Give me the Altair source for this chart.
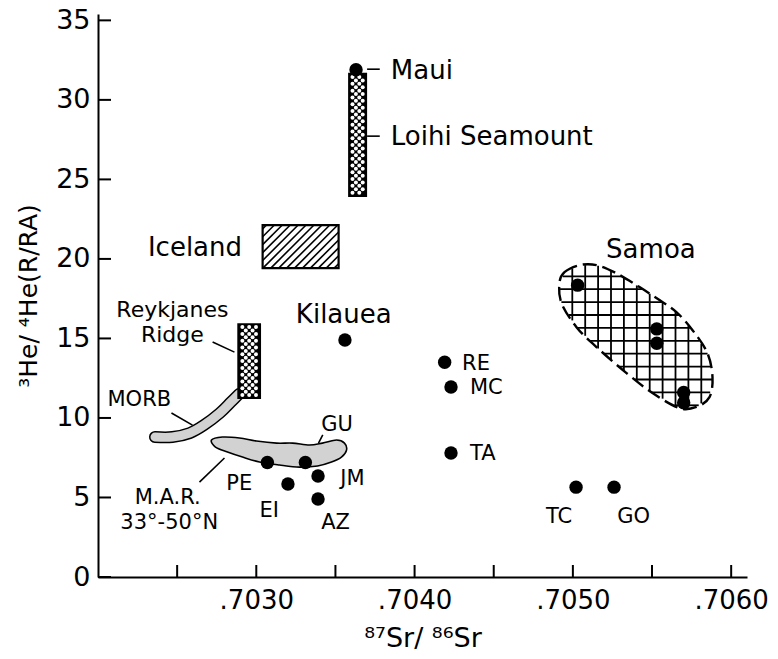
import math
import altair as alt
import pandas as pd

# ---------------- axes ----------------
X_DOMAIN = [0.7020, 0.7061]
Y_DOMAIN = [0.0, 35.4]
x_tick_values = [0.7025, 0.7030, 0.7035, 0.7040, 0.7045, 0.7050, 0.7055, 0.7060]
x_label_values = [0.7030, 0.7040, 0.7050, 0.7060]
y_tick_values = [0, 5, 10, 15, 20, 25, 30, 35]
x_title = "⁸⁷Sr/ ⁸⁶Sr"
y_title = "³He/ ⁴He(R/RA)"

# ---------------- sample points ----------------
dot_names = ["Maui", "Kilauea", "PE", "GU", "JM", "EI", "AZ", "RE", "MC", "TA",
             "TC", "GO", "Samoa 1", "Samoa 2", "Samoa 3", "Samoa 4", "Samoa 5"]
dot_x = [0.70363, 0.70356, 0.70307, 0.70331, 0.70339, 0.70320, 0.70339, 0.70419,
         0.70423, 0.70423, 0.70502, 0.70526, 0.70503, 0.70553, 0.70553, 0.70570, 0.70570]
dot_y = [31.9, 14.9, 7.2, 7.2, 6.35, 5.85, 4.9, 13.5,
         11.95, 7.8, 5.65, 5.65, 18.35, 15.6, 14.7, 11.6, 10.95]

# ---------------- fields (boxes) ----------------
box_names = ["Iceland", "Reykjanes Ridge", "Loihi Seamount"]
box_x1 = [0.70304, 0.70288, 0.70358]
box_x2 = [0.70352, 0.70303, 0.70370]
box_y1 = [19.42, 11.19, 23.9]
box_y2 = [22.12, 15.96, 31.7]

# MORB band centre line
morb_x = [0.70236, 0.70247, 0.70258, 0.70267, 0.70277, 0.70284, 0.70289]
morb_y = [8.80, 8.80, 9.05, 9.55, 10.31, 11.00, 11.50]

# M.A.R. 33-50N field outline
mar_x = [0.702717, 0.702786, 0.702894, 0.703001, 0.703128, 0.703229, 0.703336, 0.703418,
         0.703507, 0.703557, 0.703570, 0.703538, 0.703475, 0.703387, 0.703273, 0.703147,
         0.703020, 0.702913, 0.702818, 0.702742]
mar_y = [8.61, 8.80, 8.74, 8.55, 8.42, 8.42, 8.30, 8.42,
         8.61, 8.42, 7.98, 7.54, 7.23, 6.98, 6.91, 7.04,
         7.23, 7.54, 7.86, 8.17]

# Samoa field outline
samoa_x = [0.704915, 0.704947, 0.705042, 0.705149, 0.705275, 0.705421, 0.705547, 0.705654,
           0.705756, 0.705850, 0.705882, 0.705863, 0.705781, 0.705673, 0.705503, 0.705339,
           0.705149, 0.705023, 0.704928]
samoa_y = [18.48, 19.17, 19.61, 19.61, 19.10, 18.23, 17.41, 16.66,
           15.52, 14.08, 12.57, 11.31, 10.69, 10.62, 11.57, 12.82,
           14.46, 15.71, 17.22]

# leader lines
lead_x1 = [0.70370, 0.70370, 0.702724, 0.702464, 0.702641, 0.703420]
lead_y1 = [31.93, 27.72, 14.77, 10.31, 5.97, 8.93]
lead_x2 = [0.70378, 0.70378, 0.702862, 0.702597, 0.702799, 0.703393]
lead_y2 = [31.93, 27.72, 14.14, 9.55, 7.48, 8.42]

# labels
lab_text = ["Maui", "Loihi Seamount", "Iceland", "Kilauea", "Samoa",
            "Reykjanes", "Ridge", "MORB", "GU", "JM", "PE", "EI", "AZ",
            "M.A.R.", "33°-50°N", "RE", "MC", "TA", "TC", "GO"]
lab_x = [0.70385, 0.70385, 0.70291, 0.70325, 0.70521,
         0.70247, 0.70247, 0.70206, 0.70341, 0.70353, 0.70281, 0.70302, 0.70341,
         0.70244, 0.70245, 0.70430, 0.70435, 0.70435, 0.70483, 0.70528]
lab_y = [31.8, 27.65, 20.68, 16.5, 20.55,
         16.78, 15.21, 11.12, 9.55, 6.16, 5.85, 4.15, 3.39,
         4.97, 3.39, 13.39, 11.88, 7.73, 3.77, 3.77]
lab_align = ["left", "left", "right", "left", "left",
             "center", "center", "left", "left", "left", "left", "left", "left",
             "center", "center", "left", "left", "left", "left", "left"]
lab_size = [26, 26, 26, 26, 26,
            22, 22, 21, 21, 21, 21, 21, 21,
            21, 21, 21, 21, 21, 21, 21]

# ---------------- layout ----------------
W, H = 649, 563
PX_X = W / (X_DOMAIN[1] - X_DOMAIN[0])
PX_Y = H / (Y_DOMAIN[1] - Y_DOMAIN[0])
FONT = "DejaVu Sans"


def to_px(x, y):
    return ((x - X_DOMAIN[0]) * PX_X, (y - Y_DOMAIN[0]) * PX_Y)


def to_data(u, v):
    return (X_DOMAIN[0] + u / PX_X, Y_DOMAIN[0] + v / PX_Y)


def hatch(xs, ys, angle_deg, spacing, phase=0.0):
    """Clip a family of parallel lines (screen space) to a polygon."""
    pts = [to_px(x, y) for x, y in zip(xs, ys)]
    a = math.radians(angle_deg)
    dx, dy = math.cos(a), math.sin(a)
    nx, ny = -dy, dx
    proj = [nx * u + ny * v for u, v in pts]
    lo, hi = min(proj), max(proj)
    rows = []
    k = math.ceil((lo - phase) / spacing)
    n = len(pts)
    while phase + k * spacing <= hi:
        c = phase + k * spacing
        hits = []
        for i in range(n):
            j = (i + 1) % n
            s1, s2 = proj[i] - c, proj[j] - c
            if (s1 < 0) != (s2 < 0):
                t = s1 / (s1 - s2)
                u = pts[i][0] + t * (pts[j][0] - pts[i][0])
                v = pts[i][1] + t * (pts[j][1] - pts[i][1])
                hits.append((dx * u + dy * v, u, v))
        hits.sort()
        for m in range(0, len(hits) - 1, 2):
            xa, ya = to_data(hits[m][1], hits[m][2])
            xb, yb = to_data(hits[m + 1][1], hits[m + 1][2])
            rows.append({"x": xa, "y": ya, "x2": xb, "y2": yb})
        k += 1
    return pd.DataFrame(rows)


def lattice(x1, x2, y1, y2, pitch=6.8, margin=3.4):
    """Centred diamond lattice of texture dots inside a box (screen space)."""
    u1, v1 = to_px(x1, y1)
    u2, v2 = to_px(x2, y2)
    half = pitch / 2
    usable_u = (u2 - u1) - 2 * margin
    nsteps_u = int(usable_u // half)
    start_u = u1 + ((u2 - u1) - nsteps_u * half) / 2
    usable_v = (v2 - v1) - 2 * margin
    nsteps_v = int(usable_v // half)
    start_v = v1 + ((v2 - v1) - nsteps_v * half) / 2
    rows = []
    for r in range(nsteps_v + 1):
        for c in range(nsteps_u + 1):
            if (r + c) % 2 == 0:
                xx, yy = to_data(start_u + c * half, start_v + r * half)
                rows.append({"x": xx, "y": yy})
    return pd.DataFrame(rows)


xs = alt.Scale(domain=X_DOMAIN, nice=False, zero=False)
ys = alt.Scale(domain=Y_DOMAIN, nice=False, zero=False)

AX_X = alt.Axis(values=x_label_values, title=x_title,
                labelExpr="replace(format(datum.value, '.4f'), '0.', '.')")
AX_Y = alt.Axis(values=y_tick_values, title=y_title)


def X(f="x"):
    return alt.X(f"{f}:Q", scale=xs, axis=AX_X)


def Y(f="y"):
    return alt.Y(f"{f}:Q", scale=ys, axis=AX_Y)


layers = []

# Samoa cross-hatch + dashed outline
samoa_df = pd.DataFrame({"x": samoa_x, "y": samoa_y, "i": range(len(samoa_x))})
samoa_grid = pd.concat([hatch(samoa_x, samoa_y, 90, 12.9, 3.0),
                        hatch(samoa_x, samoa_y, 0, 12.9, 4.0)], ignore_index=True)
layers.append(alt.Chart(samoa_grid).mark_rule(color="black", strokeWidth=1.8).encode(
    x=X(), y=Y(), x2="x2:Q", y2="y2:Q"))
layers.append(alt.Chart(samoa_df).mark_line(
    interpolate="cardinal-closed", stroke="black", strokeWidth=2.4, strokeDash=[14, 6]
).encode(x=X(), y=Y(), order="i:Q"))

# M.A.R. field
mar_df = pd.DataFrame({"x": mar_x, "y": mar_y, "i": range(len(mar_x))})
layers.append(alt.Chart(mar_df).mark_line(
    interpolate="cardinal-closed", fill="#d2d2d2", stroke="black", strokeWidth=1.6
).encode(x=X(), y=Y(), order="i:Q"))

# MORB band
morb_df = pd.DataFrame({"x": morb_x, "y": morb_y, "i": range(len(morb_x))})
layers.append(alt.Chart(morb_df).mark_line(
    interpolate="cardinal", color="black", strokeWidth=12, strokeCap="round"
).encode(x=X(), y=Y(), order="i:Q"))
layers.append(alt.Chart(morb_df).mark_line(
    interpolate="cardinal", color="#d2d2d2", strokeWidth=9, strokeCap="round"
).encode(x=X(), y=Y(), order="i:Q"))

# boxes
box_df = pd.DataFrame({"name": box_names, "x": box_x1, "x2": box_x2, "y": box_y1, "y2": box_y2})
pattern_boxes = box_df[box_df["name"] != "Iceland"]
layers.append(alt.Chart(pattern_boxes).mark_rect(color="black").encode(
    x=X(), x2="x2:Q", y=Y(), y2="y2:Q"))
lat = pd.concat([lattice(r.x, r.x2, r.y, r.y2) for r in pattern_boxes.itertuples()],
                ignore_index=True)
layers.append(alt.Chart(lat).mark_circle(color="white", opacity=1, size=16).encode(
    x=X(), y=Y()))

ice = box_df[box_df["name"] == "Iceland"]
layers.append(alt.Chart(ice).mark_rect(fill="white", stroke="black", strokeWidth=2.2).encode(
    x=X(), x2="x2:Q", y=Y(), y2="y2:Q"))
ir = ice.iloc[0]
ice_hatch = hatch([ir.x, ir.x2, ir.x2, ir.x], [ir.y, ir.y, ir.y2, ir.y2], 45, 5.6, 1.0)
layers.append(alt.Chart(ice_hatch).mark_rule(color="black", strokeWidth=1.6).encode(
    x=X(), y=Y(), x2="x2:Q", y2="y2:Q"))

# leader lines
lead_df = pd.DataFrame({"x": lead_x1, "y": lead_y1, "x2": lead_x2, "y2": lead_y2})
layers.append(alt.Chart(lead_df).mark_rule(color="black", strokeWidth=1.6).encode(
    x=X(), y=Y(), x2="x2:Q", y2="y2:Q"))

# dots
dots_df = pd.DataFrame({"name": dot_names, "x": dot_x, "y": dot_y})
layers.append(alt.Chart(dots_df).mark_circle(color="black", opacity=1, size=180).encode(
    x=X(), y=Y(), tooltip="name:N"))

# labels
lab_df = pd.DataFrame({"text": lab_text, "x": lab_x, "y": lab_y,
                       "align": lab_align, "fs": lab_size})
for al in ["left", "center", "right"]:
    sub = lab_df[lab_df["align"] == al]
    layers.append(alt.Chart(sub).mark_text(
        align=al, baseline="middle", font=FONT, color="black"
    ).encode(x=X(), y=Y(), text="text:N", size=alt.Size("fs:Q", scale=None)))

# inward ticks
layers.append(alt.Chart(pd.DataFrame({"x": x_tick_values})).mark_rule(
    color="black", strokeWidth=2).encode(x=X(), y=alt.value(H), y2=alt.value(H - 12)))
layers.append(alt.Chart(pd.DataFrame({"y": y_tick_values})).mark_rule(
    color="black", strokeWidth=2).encode(y=Y(), x=alt.value(0), x2=alt.value(13)))

chart = alt.layer(*layers).properties(
    width=W, height=H,
    padding={"left": 98, "top": 14, "right": 31, "bottom": 82},
    autosize="none", background="white",
).configure_view(stroke=None).configure_axis(
    ticks=False, grid=False, labelFont=FONT, labelColor="black", labelFlush=False,
    domainColor="black", domainWidth=2,
    titleFont=FONT, titleFontWeight="normal", titleColor="black",
).configure_axisX(
    labelFontSize=26, labelPadding=10, titlePadding=12, titleFontSize=27,
).configure_axisY(
    labelFontSize=27, labelPadding=8, titlePadding=14, titleFontSize=25,
)

chart.save("out.html", embed_options={"renderer": "svg", "actions": False})
